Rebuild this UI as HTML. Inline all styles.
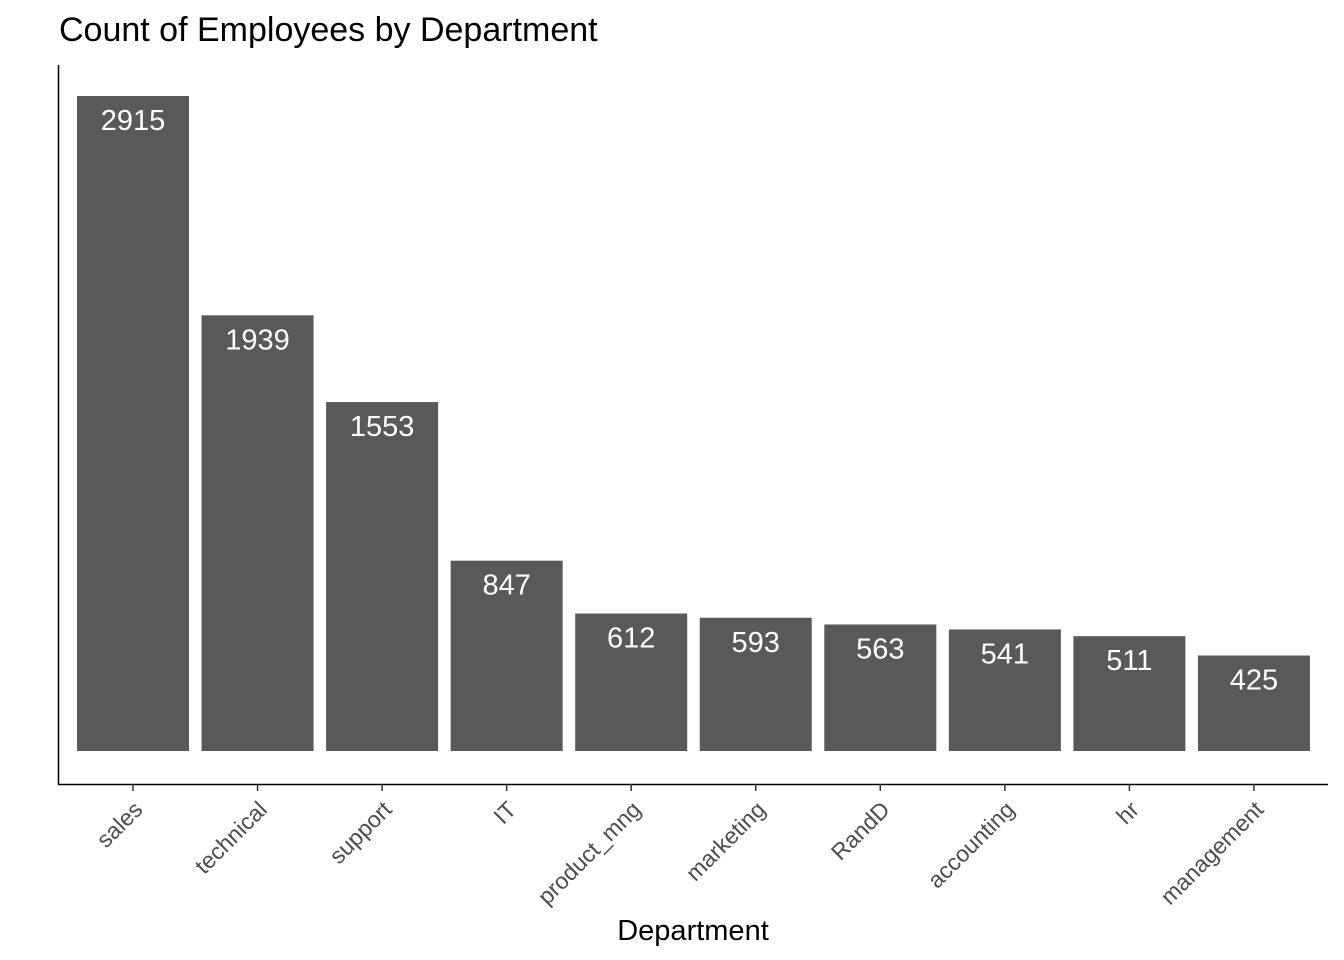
<!DOCTYPE html>
<html><head><meta charset="utf-8"><style>
body{margin:0;background:#fff;}
svg{display:block;font-family:"Liberation Sans",Arial,sans-serif;}
</style></head><body>
<svg width="1344" height="960" viewBox="0 0 1344 960">
<text x="59" y="41" font-size="34" fill="#000">Count of Employees by Department</text>
<line x1="58.5" y1="65" x2="58.5" y2="784" stroke="#000" stroke-width="1.5"/>
<line x1="58" y1="784.5" x2="1328" y2="784.5" stroke="#000" stroke-width="1.5"/>
<g id="bars"></g>
<text x="693" y="940" font-size="29" text-anchor="middle" fill="#000">Department</text>
<script>
const categories=["sales","technical","support","IT","product_mng","marketing","RandD","accounting","hr","management"];
const counts=[2915,1939,1553,847,612,593,563,541,511,425];
const ns="http://www.w3.org/2000/svg";
const g=document.getElementById("bars");
const y0=751, yTop=96, vmax=2915;
function yScale(v){return y0-(v/vmax)*(y0-yTop);}
const xStart=133, step=124.55, bw=112;
function xScale(i){return xStart+i*step;}
categories.forEach((c,i)=>{
  const cx=xScale(i), v=counts[i], yt=yScale(v);
  const r=document.createElementNS(ns,"rect");
  r.setAttribute("x",cx-bw/2);r.setAttribute("y",yt);r.setAttribute("width",bw);r.setAttribute("height",y0-yt);r.setAttribute("fill","#595959");
  
  
  g.appendChild(r);
  const t=document.createElementNS(ns,"text");
  t.setAttribute("x",cx);t.setAttribute("y",yt+34);t.setAttribute("text-anchor","middle");t.setAttribute("font-size","29");t.setAttribute("fill","#fff");
  t.textContent=v;
  
  
  g.appendChild(t);
  const tk=document.createElementNS(ns,"line");
  tk.setAttribute("x1",cx);tk.setAttribute("x2",cx);tk.setAttribute("y1",784);tk.setAttribute("y2",791);tk.setAttribute("stroke","#333");tk.setAttribute("stroke-width","1.5");
  
  
  g.appendChild(tk);
  const l=document.createElementNS(ns,"text");
  const lx=cx+11, ly=811;
  l.setAttribute("x",lx);l.setAttribute("y",ly);l.setAttribute("text-anchor","end");l.setAttribute("font-size","23");l.setAttribute("fill","#4d4d4d");
  l.setAttribute("transform","rotate(-45 "+lx+" "+ly+")");
  l.textContent=c;
  
  
  g.appendChild(l);
});
</script>
</svg>
</body></html>
